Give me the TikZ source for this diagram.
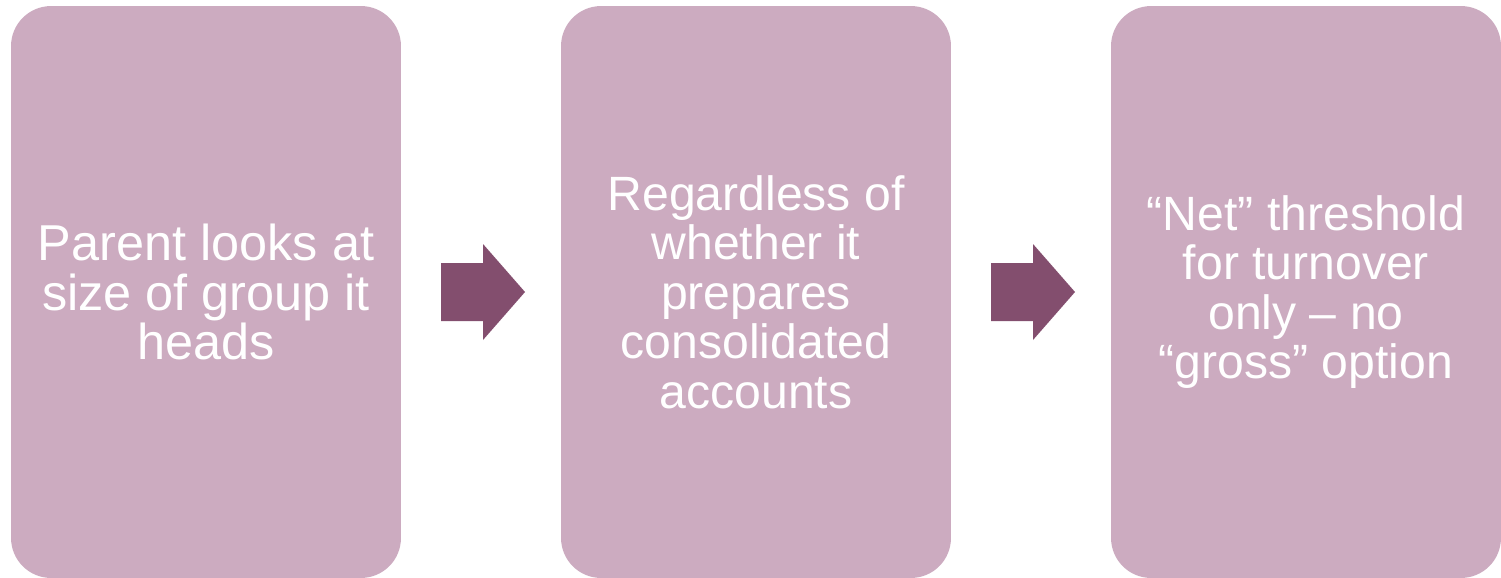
\documentclass[tikz,border=0pt]{standalone}
\usepackage{fontspec}
\setmainfont{Liberation Sans}
\usetikzlibrary{positioning}

\definecolor{boxpink}{HTML}{CCABC0}
\definecolor{arrowplum}{HTML}{834E6E}

\tikzset{
  stepbox/.style={fill=boxpink,rounded corners=0.8cm,minimum width=7.8cm,
    minimum height=11.44cm,text=white,align=center,inner sep=0pt,
    font=\fontsize{28.7}{28.4}\selectfont},
  smalltext/.style={font=\fontsize{27.4}{28.2}\selectfont},
  blockarrow/.style={fill=arrowplum}
}

\begin{document}
\begin{tikzpicture}[x=0.02cm,y=-0.02cm]
  \useasboundingbox (0,0) rectangle (1501,578);

  \node[stepbox] (P) at (206,292) {Parent looks at\\size of group it\\heads};
  \node[stepbox,smalltext] (R) at (756,292) {Regardless of\\whether it\\prepares\\consolidated\\accounts};
  \node[stepbox,smalltext] (N) at (1306,292) {“Net” threshold\\for turnover\\only – no\\“gross” option};

  % block arrows between the boxes
  \fill[blockarrow] (441,263) -- (483,263) -- (483,244) -- (525,292)
    -- (483,340) -- (483,321) -- (441,321) -- cycle;
  \fill[blockarrow] (991,263) -- (1033,263) -- (1033,244) -- (1075,292)
    -- (1033,340) -- (1033,321) -- (991,321) -- cycle;

\end{tikzpicture}
\end{document}
